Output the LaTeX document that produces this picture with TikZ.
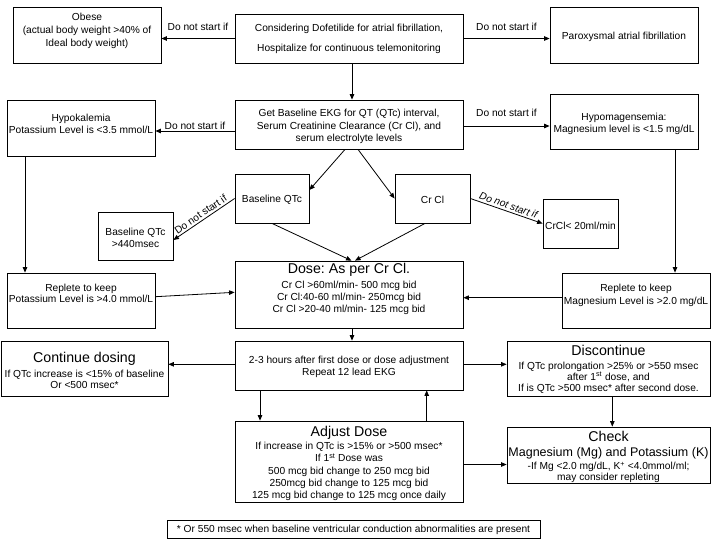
\documentclass[tikz,border=0pt]{standalone}
\usepackage{fontspec}
\setmainfont{Liberation Sans}
\usetikzlibrary{arrows.meta,calc}
\begin{document}
\frenchspacing
\begin{tikzpicture}[x=1pt,y=-1pt,
  box/.style={draw, line width=0.8pt, inner sep=0pt},
  txt/.style={inner sep=0pt, align=center, font=\fontsize{10.2}{12.2}\selectfont},
  head/.style={inner sep=0pt, align=center, font=\fontsize{14.2}{16}\selectfont},
  lab/.style={inner sep=1pt, font=\fontsize{10.2}{12}\selectfont},
  arr/.style={line width=0.8pt, -{Triangle[length=5.5pt,width=4.5pt]}},
  ln/.style={line width=0.8pt},
]
\useasboundingbox (0,0) rectangle (711,539);

% ---------- boxes ----------
\node[box, minimum width=148, minimum height=56] (obese)  at (87,35) {};
\node[box, minimum width=228, minimum height=49] (top)    at (349,38.5) {};
\node[box, minimum width=148, minimum height=56] (parox)  at (624,35) {};
\node[box, minimum width=148, minimum height=56] (hypok)  at (81,128) {};
\node[box, minimum width=228, minimum height=49] (ekg)    at (349,124.5) {};
\node[box, minimum width=148, minimum height=55] (hypomg) at (624,121.5) {};
\node[box, minimum width=74,  minimum height=49] (bqtc)   at (272,198.5) {};
\node[box, minimum width=75,  minimum height=49] (crcl)   at (432.5,198.5) {};
\node[box, minimum width=75,  minimum height=48] (qtc)    at (135.5,236) {};
\node[box, minimum width=75,  minimum height=49] (crcl20) at (580.5,223.5) {};
\node[box, minimum width=148, minimum height=55] (replk)  at (81,300.5) {};
\node[box, minimum width=228, minimum height=67] (dose)   at (349,294.5) {};
\node[box, minimum width=148, minimum height=55] (replmg) at (636,300.5) {};
\node[box, minimum width=228, minimum height=49] (ekg2)   at (349,365.5) {};
\node[box, minimum width=167, minimum height=55] (cont)   at (84.5,368.5) {};
\node[box, minimum width=203, minimum height=55] (disc)   at (608.5,368.5) {};
\node[box, minimum width=228, minimum height=81] (adj)    at (349,461.5) {};
\node[box, minimum width=203, minimum height=56] (check)  at (608.5,455) {};
\node[box, minimum width=373, minimum height=18] (foot)   at (353.5,529) {};

% ---------- texts ----------
\node[txt, font=\fontsize{10.2}{13}\selectfont] (obese-t) at (87,31) {Obese\\(actual body weight >40\% of\\Ideal body weight)};
\node[txt, font=\fontsize{10.2}{20}\selectfont] (top-t) at (349,39) {Considering Dofetilide for atrial fibrillation,\\Hospitalize for continuous telemonitoring};
\node[txt] (parox-t) at (624,36.5) {Paroxysmal atrial fibrillation};
\node[txt, font=\fontsize{10.2}{12}\selectfont] (hypok-t) at (81,124) {Hypokalemia\\Potassium Level is <3.5 mmol/L};
\node[txt, font=\fontsize{10.2}{12.5}\selectfont] (ekg-t) at (349,126.5) {Get Baseline EKG for QT (QTc) interval,\\Serum Creatinine Clearance (Cr Cl), and\\serum electrolyte levels};
\node[txt, font=\fontsize{10.2}{12.3}\selectfont] (hypomg-t) at (624,124) {Hypomagensemia:\\Magnesium level is <1.5 mg/dL};
\node[txt] (bqtc-t) at (272,199.5) {Baseline QTc};
\node[txt] (crcl-t) at (432.5,199.5) {Cr Cl};
\node[txt, font=\fontsize{10.2}{11.7}\selectfont] (qtc-t) at (135.5,238) {Baseline QTc\\>440msec};
\node[txt] (crcl20-t) at (580.5,225.5) {CrCl< 20ml/min};
\node[txt, font=\fontsize{10.2}{11.5}\selectfont] (replk-t) at (81,293.5) {Replete to keep\\Potassium Level is >4.0 mmol/L};
\node[txt, font=\fontsize{10.2}{12.5}\selectfont] (replmg-t) at (636,295.5) {Replete to keep\\Magnesium Level is >2.0 mg/dL};
\node[head] (dose-h) at (349,270) {Dose: As per Cr Cl.};
\node[txt, font=\fontsize{10.2}{12.1}\selectfont] (dose-b) at (349,298) {Cr Cl >60ml/min- 500 mcg bid\\Cr Cl:40-60 ml/min- 250mcg bid\\Cr Cl >20-40 ml/min- 125 mcg bid};
\node[txt, font=\fontsize{10.2}{12.7}\selectfont] (ekg2-t) at (349,367) {2-3 hours after first dose or dose adjustment\\Repeat 12 lead EKG};
\node[head] (cont-h) at (84.5,358.4) {Continue dosing};
\node[txt, font=\fontsize{10.2}{11}\selectfont] (cont-b) at (84.5,379.8) {If QTc increase is <15\% of baseline\\Or <500 msec*};
\node[head] (disc-h) at (608.5,350.7) {Discontinue};
\node[txt, font=\fontsize{10.2}{10.7}\selectfont] (disc-b) at (608.5,377.7) {If QTc prolongation >25\% or >550 msec\\after 1\textsuperscript{st} dose, and\\If is QTc >500 msec* after second dose.};
\node[head] (adj-h) at (349,433) {Adjust Dose};
\node[txt, font=\fontsize{10.2}{12.25}\selectfont] (adj-b) at (349,471.4) {If increase in QTc is >15\% or >500 msec*\\If 1\textsuperscript{st} Dose was\\500 mcg bid change to 250 mcg bid\\250mcg bid change to 125 mcg bid\\125 mcg bid change to 125 mcg once daily};
\node[head] (check-h) at (608.5,436) {Check};
\node[txt, font=\fontsize{12.5}{14}\selectfont] (check-m) at (608.5,453) {Magnesium (Mg) and Potassium (K)};
\node[txt, font=\fontsize{10.2}{10.7}\selectfont] (check-b) at (608.5,472.3) {-If Mg <2.0 mg/dL, K\textsuperscript{+} <4.0mmol/ml;\\may consider repleting};
\node[txt] (foot-t) at (353.5,530) {* Or 550 msec when baseline ventricular conduction abnormalities are present};

% ---------- connectors ----------
\draw[arr] (top.west) -- node[lab, midway, above=6.6pt] (l1) {Do not start if} (top.west -| obese.east);
\draw[arr] (top.east) -- node[lab, midway, above=6.6pt] (l2) {Do not start if} (top.east -| parox.west);
\draw[arr] ([xshift=3pt]top.south) -- ([xshift=3pt]ekg.north);

\coordinate (c1) at ([yshift=-6.5pt]ekg.west);
\draw[arr] (c1) -- node[lab, midway, above=0pt] (l3) {Do not start if} (c1 -| hypok.east);
\coordinate (c2) at ([yshift=-1.5pt]ekg.east);
\draw[arr] (c2) -- node[lab, midway, above=7.7pt] (l4) {Do not start if} (c2 -| hypomg.west);

\draw[arr] ([xshift=-56pt]hypok.south) -- ([xshift=-56pt]replk.north);
\coordinate (c3) at ([xshift=51pt]hypomg.south);
\draw[arr] (c3) -- (c3 |- replmg.north);

\draw[arr] ([xshift=-4pt]ekg.south) -- ([yshift=8.5pt]bqtc.east);
\draw[arr] ([xshift=9pt]ekg.south) -- (crcl.west);

\draw[arr] (bqtc.west) -- node[lab, sloped, midway, above=1pt] (l5) {Do not start if} ([yshift=-4pt]qtc.east);
\draw[arr] (crcl.east) -- node[lab, sloped, midway, above=1pt, font=\fontsize{10.2}{12}\selectfont\itshape] (l6) {Do not start if} (crcl20.west);

\draw[arr] (bqtc.south) -- ([xshift=2.5pt]dose.north);
\draw[arr] ([xshift=-7.5pt]crcl.south) -- ([xshift=6pt]dose.north);

\draw[arr] ([yshift=3.8pt]replk.east) -- ([yshift=2.2pt]dose.west);
\coordinate (c4) at ([yshift=2.8pt]replmg.west);
\draw[arr] (c4) -- (c4 -| dose.east);

\draw[arr] ([xshift=3pt]dose.south) -- ([xshift=3pt]ekg2.north);

\coordinate (c5) at ([yshift=1.2pt]ekg2.west);
\draw[arr] (c5) -- (c5 -| cont.east);
\coordinate (c6) at ([yshift=1.2pt]ekg2.east);
\draw[arr] (c6) -- (c6 -| disc.west);

\draw[arr] ([xshift=-89pt]ekg2.south) -- ([xshift=-89pt]adj.north);
\draw[arr] ([xshift=77.7pt]adj.north) -- ([xshift=77.7pt]ekg2.south);

\draw[arr] ([xshift=3.8pt]disc.south) -- ([xshift=3.8pt]check.north);
\coordinate (c7) at ([yshift=-3pt]adj.east);
\draw[arr] (c7) -- (c7 -| check.west);
\end{tikzpicture}
\end{document}
